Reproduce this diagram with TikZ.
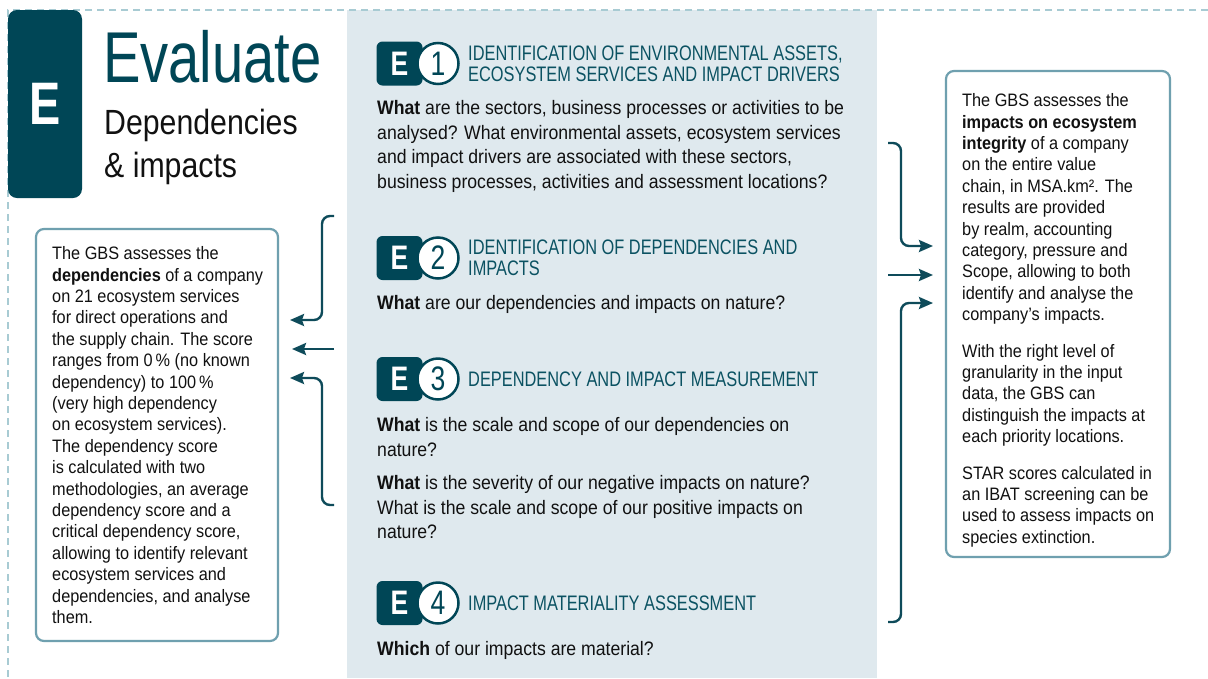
\documentclass[tikz,border=0pt]{standalone}
\usepackage{fontspec}
\setmainfont{Liberation Sans}[FakeStretch=0.905]
\newfontfamily\condfont{Liberation Sans}[FakeStretch=0.78]
\newfontfamily\subfont{Liberation Sans}[FakeStretch=0.865]
\usetikzlibrary{arrows.meta}
\definecolor{darkteal}{HTML}{004656}
\definecolor{headteal}{HTML}{0B5262}
\definecolor{conncol}{HTML}{0E4B5A}
\definecolor{panel}{HTML}{DFE9EE}
\definecolor{boxline}{HTML}{6FA0AF}
\definecolor{dashcol}{HTML}{A8CBD3}
\definecolor{txt}{HTML}{111111}
\begin{document}
\begin{tikzpicture}[x=1pt,y=-1pt,
  body/.style={anchor=north west, inner sep=0pt, align=left, text=txt, font=\fontsize{19.5}{24.5}\selectfont},
  side/.style={anchor=north west, inner sep=0pt, align=left, text=txt, font=\fontsize{18}{21.4}\selectfont},
  head/.style={anchor=west, inner sep=0pt, align=left, text=headteal, font=\condfont\fontsize{21}{21.5}\selectfont},
  ebox/.style={rectangle, rounded corners=6pt, fill=darkteal, minimum width=46pt, minimum height=44pt, inner sep=0pt, text=white, font=\condfont\bfseries\fontsize{34}{34}\selectfont},
  ecirc/.style={circle, draw=darkteal, line width=2.5pt, fill=white, minimum size=41pt, inner sep=0pt, text=darkteal, font=\condfont\fontsize{34}{34}\selectfont},
  infobox/.style={draw=boxline, line width=2.2pt, rounded corners=8pt, fill=white},
  conn/.style={draw=conncol, line width=2.4pt, rounded corners=8pt, -{Stealth[length=14pt,width=12pt,inset=2pt]}}
]
\path[use as bounding box, fill=white] (0,0) rectangle (1208,678);
% centre panel
\fill[panel] (347,10) rectangle (877,678);
% dashed frame
\draw[dashcol, line width=1.5pt, dash pattern=on 7pt off 5pt] (1208,10) -- (8,10) -- (8,678);
% big E
\node[rectangle, rounded corners=9pt, fill=darkteal, minimum width=74pt, minimum height=188pt, inner sep=0pt, text=white, font=\condfont\bfseries\fontsize{60}{60}\selectfont] (bigE) at (45,104) {E};
\node[anchor=base west, inner sep=0pt, text=darkteal, font=\condfont\fontsize{72}{72}\selectfont] (title) at (103,82) {Evaluate};
\node[anchor=base west, inner sep=0pt, text=txt, font=\subfont\fontsize{35}{35}\selectfont] (sub1) at (104,134) {Dependencies};
\node[anchor=base west, inner sep=0pt, text=txt, font=\subfont\fontsize{35}{35}\selectfont] (sub2) at (104,177) {\& impacts};

% side boxes
\draw[infobox] (36,229) rectangle (278,641);
\coordinate (leftbox) at (278,435);
\node[side] (ltext) at (52,244.5) {\strut The GBS assesses the\\
\textbf{dependencies} of a company\\
on 21 ecosystem services\\
for direct operations and\\
the supply chain. The score\\
ranges from 0\,\% (no known\\
dependency) to 100\,\%\\
(very high dependency\\
on ecosystem services).\\
The dependency score\\
is calculated with two\\
methodologies, an average\\
dependency score and a\\
critical dependency score,\\
allowing to identify relevant\\
ecosystem services and\\
dependencies, and analyse\\
them.};

\draw[infobox] (946,71) rectangle (1170,557);
\coordinate (rightbox) at (946,314);
\node[side] (rtext) at (962,91.5) {\strut The GBS assesses the\\
\textbf{impacts on ecosystem}\\
\textbf{integrity} of a company\\
on the entire value\\
chain, in MSA.km². The\\
results are provided\\
by realm, accounting\\
category, pressure and\\
Scope, allowing to both\\
identify and analyse the\\
company’s impacts.\\[15pt]
With the right level of\\
granularity in the input\\
data, the GBS can\\
distinguish the impacts at\\
each priority locations.\\[15pt]
STAR scores calculated in\\
an IBAT screening can be\\
used to assess impacts on\\
species extinction.};

% E1
\node[ebox] (e1b) at (399.5,63.5) {E};
\node[ecirc] (e1c) at (438,63.5) {1};
\node[head] (e1h) at (468,64) {IDENTIFICATION OF ENVIRONMENTAL ASSETS,\\ECOSYSTEM SERVICES AND IMPACT DRIVERS};
\node[body] (e1t) at (377,97.3) {\strut\textbf{What} are the sectors, business processes or activities to be\\
analysed? What environmental assets, ecosystem services\\
and impact drivers are associated with these sectors,\\
business processes, activities and assessment locations?};

% E2
\node[ebox] (e2b) at (399.5,258) {E};
\node[ecirc] (e2c) at (438,258) {2};
\node[head] (e2h) at (468,258) {IDENTIFICATION OF DEPENDENCIES AND\\IMPACTS};
\node[body] (e2t) at (377,292.4) {\strut\textbf{What} are our dependencies and impacts on nature?};

% E3
\node[ebox] (e3b) at (399.5,379) {E};
\node[ecirc] (e3c) at (438,379) {3};
\node[head] (e3h) at (468,379) {DEPENDENCY AND IMPACT MEASUREMENT};
\node[body] (e3t) at (377,414.4) {\strut\textbf{What} is the scale and scope of our dependencies on\\
nature?\\[9pt]
\textbf{What} is the severity of our negative impacts on nature?\\
What is the scale and scope of our positive impacts on\\
nature?};

% E4
\node[ebox] (e4b) at (399.5,603) {E};
\node[ecirc] (e4c) at (438,603) {4};
\node[head] (e4h) at (468,603) {IMPACT MATERIALITY ASSESSMENT};
\node[body] (e4t) at (377,638.4) {\strut\textbf{Which} of our impacts are material?};

% left connectors
\coordinate (la) at (334,216);
\coordinate (lb) at (334,349);
\coordinate (lc) at (334,505);
\draw[conn] (la) -- (322,216) -- (322,320) -- ([xshift=12pt]leftbox |- 0,320);
\draw[conn] (lb) -- ([xshift=14pt]leftbox |- lb);
\draw[conn] (lc) -- (322,505) -- (322,378) -- ([xshift=12pt]leftbox |- 0,378);

% right connectors
\coordinate (ra) at (888,143);
\coordinate (rb) at (888,275);
\coordinate (rc) at (888,622);
\draw[conn] (ra) -- (901,143) -- (901,246) -- ([xshift=-13pt]rightbox |- 0,246);
\draw[conn] (rb) -- ([xshift=-13pt]rightbox |- rb);
\draw[conn] (rc) -- (901,622) -- (901,303) -- ([xshift=-13pt]rightbox |- 0,303);
\end{tikzpicture}
\end{document}
